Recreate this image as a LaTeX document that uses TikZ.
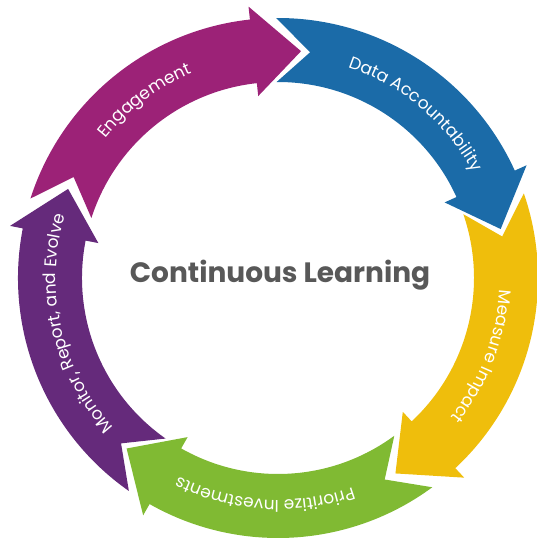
\documentclass[tikz,border=0pt]{standalone}
\usepackage{fontspec}
\setmainfont{Poppins}
\newfontfamily\arcfont{Poppins}
\usetikzlibrary{decorations.text}
\definecolor{cMag}{HTML}{9C2277}
\definecolor{cBlue}{HTML}{1B6BA8}
\definecolor{cYel}{HTML}{EFBE0C}
\definecolor{cGreen}{HTML}{80BA33}
\definecolor{cPurp}{HTML}{652A7B}
\definecolor{cGray}{HTML}{585858}
\newcommand\arcstyle{\arcfont\fontsize{17pt}{19pt}\selectfont}
% #1 tip angle, #2 colour, #3 name of tip coordinate
\newcommand\cyclearrow[3]{%
  \fill[#2] (#1+78:260pt) arc[start angle=#1+78, end angle=#1+12, radius=260pt]
    -- (#1+12:273pt) -- (#1:228pt) coordinate (#3) -- (#1+12:183pt) -- (#1+12:196pt)
    arc[start angle=#1+12, end angle=#1+78, radius=196pt]
    -- (#1+69.5:228pt) -- cycle;}
\newcommand\arclabel[2]{% #1 centre angle, #2 text
  \path[decorate, decoration={text along path, text={|\arcstyle|#2}, text align=center, text color=white}]
    (#1+45:222pt) arc[start angle=#1+45, end angle=#1-45, radius=222pt];}
\begin{document}
\begin{tikzpicture}
\useasboundingbox (-278pt,-263pt) rectangle (258pt,278pt);
\cyclearrow{84.2}{cMag}{tipA}
\cyclearrow{12.4}{cBlue}{tipB}
\cyclearrow{-59}{cYel}{tipC}
\cyclearrow{-131.6}{cGreen}{tipD}
\cyclearrow{157}{cPurp}{tipE}
\arclabel{127}{Engagement}
\arclabel{50}{Data Accountability}
\arclabel{-21}{Measure Impact}
\arclabel{-93.5}{Prioritize Investments}
\arclabel{193}{Monitor, Report, and Evolve}
\node[anchor=base, text=cGray, font=\fontsize{28pt}{32pt}\selectfont\bfseries, inner sep=0pt] (title) at (2pt,-5pt) {Continuous Learning};
\end{tikzpicture}
\end{document}
